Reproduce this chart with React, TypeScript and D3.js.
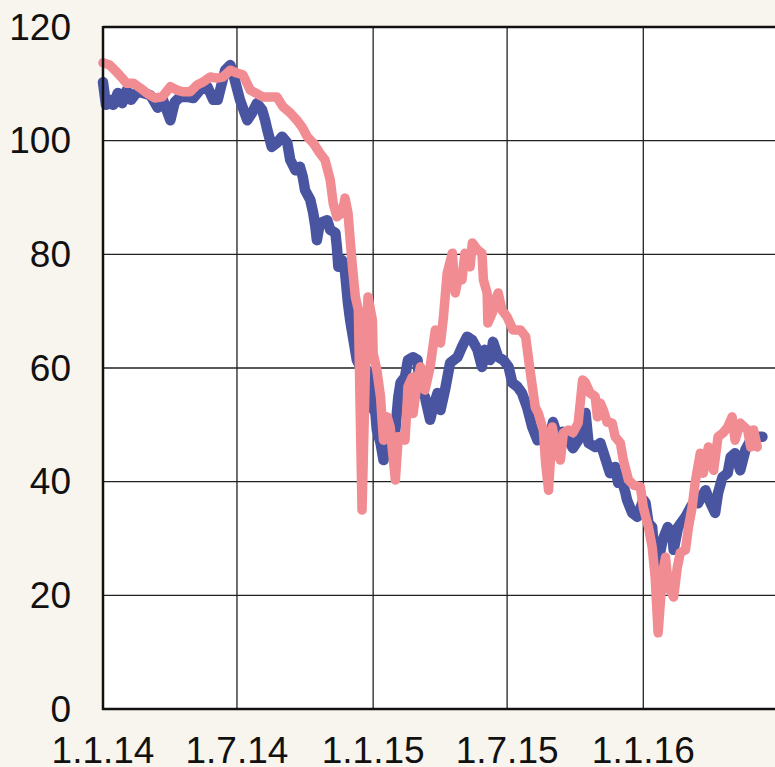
import React from "react";
import * as d3 from "d3";

const startDate = new Date(2014, 0, 1);
const endDate = new Date(2016, 6, 1);

const tickDates = ["2014-01-01", "2014-07-01", "2015-01-01", "2015-07-01", "2016-01-01"];
const tickLabels = ["1.1.14", "1.7.14", "1.1.15", "1.7.15", "1.1.16"];
const gridDates = ["2014-07-01", "2015-01-01", "2015-07-01", "2016-01-01", "2016-07-01"];
const yTicks = [0, 20, 40, 60, 80, 100, 120];

// days since 1 Jan 2014
const blueDays = [0,4,9,14,20,26,32,38,46,54,64,74,81,91,97,104,114,122,131,141,149,155,165,172,178,185,195,201,208,215,219,222,228,235,242,249,253,260,266,270,273,280,284,287,289,293,303,307,314,316,318,323,327,331,334,343,350,357,361,364,368,370,375,379,384,388,395,399,402,408,412,419,425,426,431,435,442,446,452,456,462,469,479,485,492,499,506,512,516,523,527,534,541,548,553,560,566,573,580,587,595,602,608,614,621,629,635,645,652,656,665,672,676,685,692,696,699,706,708,715,722,730,733,737,742,744,750,756,763,769,771,777,787,794,800,804,814,821,827,831,837,844,848,854,861,868,875,881,891];
const blueValues = [110.3,106.3,107.2,106.3,108.4,106.6,108.9,107.2,108.6,108.4,108.0,105.8,107.2,103.6,106.8,107.7,107.7,107.5,108.9,109.5,107.2,107.2,112.4,113.3,110.7,107.2,103.6,104.8,106.6,105.4,103.6,101.9,98.9,99.6,100.7,99.6,96.6,94.8,95.4,93.6,91.3,89.6,87.3,84.8,82.5,85.5,86.0,84.3,83.8,81.3,77.8,79.0,76.9,71.4,68.4,61.4,59.5,59.6,56.7,53.1,52.1,49.1,46.8,43.8,46.8,45.5,49.1,54.9,57.4,58.4,61.4,61.9,61.4,59.6,55.6,54.9,50.9,53.1,55.6,52.6,56.1,60.9,61.9,63.7,65.5,64.9,63.2,60.2,63.2,61.4,64.6,61.9,61.4,60.2,57.4,56.7,55.6,53.1,49.6,47.3,47.6,46.4,50.5,48.0,48.8,47.3,45.9,47.9,52.1,46.8,46.1,46.8,45.2,41.5,42.6,39.8,41.0,38.0,36.8,34.5,33.8,36.8,36.3,32.7,32.0,28.5,25.7,29.7,32.0,31.0,28.0,32.0,33.8,35.5,36.8,36.2,38.5,36.2,34.5,38.0,40.8,41.5,44.3,45.0,42.0,45.6,47.3,47.9,47.9];

const pinkDays = [0,9,19,26,32,41,50,59,70,80,91,100,108,118,127,135,145,154,162,172,181,189,199,216,235,243,253,262,269,276,284,293,300,307,311,316,323,327,331,334,337,341,345,350,355,358,364,365,370,375,377,379,384,388,392,395,399,404,408,411,412,418,419,425,429,433,435,442,449,456,460,465,472,476,480,485,489,496,499,506,512,514,519,520,526,530,534,539,546,554,564,571,577,584,588,595,598,602,607,614,618,622,629,635,642,648,652,658,665,668,672,676,681,688,692,699,703,710,717,726,730,737,742,746,750,756,760,764,771,776,780,787,791,796,800,807,811,818,825,831,838,844,850,854,861,871,875,879,884];
const pinkValues = [113.7,113.3,112.0,111.0,110.1,110.1,109.3,108.4,107.5,107.7,109.5,108.9,108.6,108.6,109.8,110.3,111.2,111.0,111.2,112.4,111.9,111.6,108.9,107.7,107.7,106.0,104.9,103.6,102.4,100.7,99.6,97.8,96.6,93.1,89.0,86.6,87.3,89.9,87.3,82.5,77.8,72.5,70.2,35.0,62.0,72.5,68.4,62.6,59.6,54.9,50.9,47.3,51.4,49.6,44.3,40.3,47.9,47.9,47.3,53.8,56.7,58.4,52.0,58.0,60.2,57.4,56.1,60.2,66.7,64.4,69.0,76.7,80.2,73.2,76.0,75.5,80.2,77.8,82.0,80.8,80.2,75.5,73.2,67.9,69.7,72.0,73.2,70.2,69.0,66.7,66.7,65.5,59.6,53.1,52.1,49.0,43.3,38.5,49.6,45.0,43.8,48.6,49.1,48.6,50.3,57.9,57.4,55.6,55.0,51.4,53.8,52.6,50.5,50.3,47.9,46.8,43.8,40.3,39.4,39.1,35.5,32.0,28.5,23.2,13.4,23.9,26.7,21.5,19.7,25.0,27.5,28.0,32.0,35.5,39.8,45.0,41.5,46.1,42.0,47.9,48.6,49.6,51.4,47.3,50.3,49.1,46.1,49.1,46.1];

const W = 775;
const H = 767;
const left = 103;
const right = 778;
const top = 27;
const bottom = 709;

export default function App() {
  const parse = d3.timeParse("%Y-%m-%d");
  const x = d3.scaleTime().domain([startDate, endDate]).range([left, right]);
  const y = d3.scaleLinear().domain([0, 120]).range([bottom, top]);

  const toPts = (days: number[], vals: number[]) =>
    days.map((d, i) => ({ date: d3.timeDay.offset(startDate, d), v: vals[i] }));

  const line = d3
    .line<{ date: Date; v: number }>()
    .x((d) => x(d.date))
    .y((d) => y(d.v));

  const bluePath = line(toPts(blueDays, blueValues)) || "";
  const pinkPath = line(toPts(pinkDays, pinkValues)) || "";

  const font = "'Liberation Sans', Arial, sans-serif";

  return (
    <svg
      width={W}
      height={H}
      style={{ position: "absolute", left: 0, top: 0, display: "block" }}
    >
      <rect x={0} y={0} width={W} height={H} fill="#f8f4ee" />
      <rect x={left} y={top} width={right - left} height={bottom - top} fill="#ffffff" />
      {yTicks.slice(1, -1).map((t) => (
        <line key={"h" + t} x1={left} x2={right} y1={y(t)} y2={y(t)} stroke="#222" strokeWidth={1.3} />
      ))}
      {gridDates.map((g) => {
        const gx = x(parse(g) as Date);
        return <line key={"v" + g} x1={gx} x2={gx} y1={top} y2={bottom} stroke="#222" strokeWidth={1.3} />;
      })}
      <path d={bluePath} fill="none" stroke="#4a55a2" strokeWidth={10.5} strokeLinejoin="round" strokeLinecap="round" />
      <path d={pinkPath} fill="none" stroke="#f28c93" strokeWidth={9.5} strokeLinejoin="round" strokeLinecap="round" />
      <line x1={left} x2={right} y1={top} y2={top} stroke="#111" strokeWidth={2.5} />
      <line x1={left} x2={left} y1={top - 1} y2={bottom + 1} stroke="#111" strokeWidth={2.5} />
      <line x1={left - 1} x2={right} y1={bottom} y2={bottom} stroke="#111" strokeWidth={2.5} />
      {yTicks.map((t) => (
        <text
          key={"yl" + t}
          x={71}
          y={y(t)}
          textAnchor="end"
          dominantBaseline="central"
          fontFamily={font}
          fontSize={37}
          fill="#111"
        >
          {t}
        </text>
      ))}
      {tickDates.map((t, i) => (
        <text
          key={"xl" + t}
          x={x(parse(t) as Date)}
          y={763}
          textAnchor="middle"
          fontFamily={font}
          fontSize={37}
          fill="#111"
        >
          {tickLabels[i]}
        </text>
      ))}
    </svg>
  );
}
